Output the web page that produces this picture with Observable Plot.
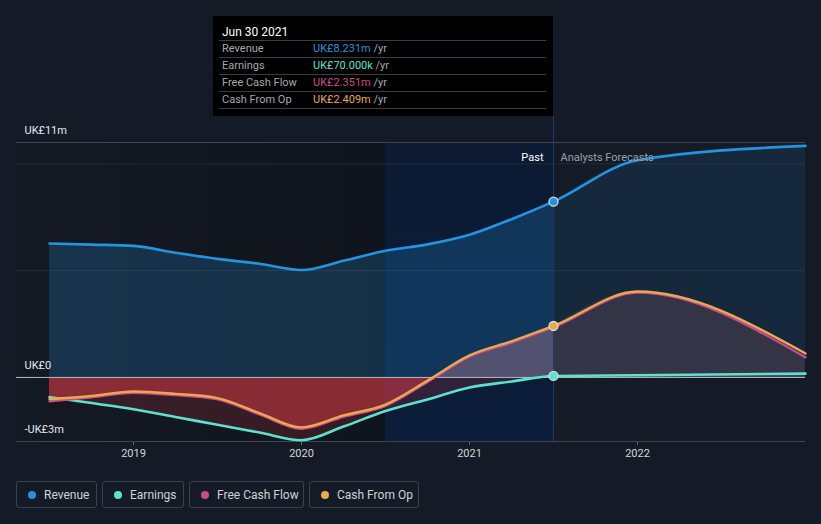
<!DOCTYPE html>
<html><head><meta charset="utf-8">
<script src="https://cdn.jsdelivr.net/npm/d3@7"></script>
<script src="https://cdn.jsdelivr.net/npm/@observablehq/plot@0.6"></script>
<style>
body{margin:0;background:#151b26;font-family:Roboto,sans-serif;}
#wrap{position:relative;width:821px;height:524px;overflow:hidden;background:#151b26;}
#chart{position:absolute;left:0;top:0;}
#tip{position:absolute;left:213px;top:16px;width:340px;height:100px;background:#000;}
#tip .title{position:absolute;left:9px;top:9px;font-size:12px;color:#fff;line-height:14px;}
#tip .rows{position:absolute;left:6px;top:24px;width:327px;border-top:1px solid #3a3d42;}
#tip .row{height:16px;border-bottom:1px solid #3a3d42;font-size:11px;line-height:16px;position:relative;}
#tip .lab{position:absolute;left:3px;color:#a6a8ab;}
#tip .val{position:absolute;left:94px;}
#tip .unit{color:#a6a8ab;}
#legend{position:absolute;left:16px;top:481px;display:flex;gap:5px;}
.btn{box-sizing:border-box;height:27px;border:1px solid #3b404b;border-radius:3px;display:flex;align-items:center;padding-left:11px;font-size:12px;color:#d0d2d6;}
.dot{width:8px;height:8px;border-radius:50%;margin-right:8px;flex:none;}
</style>
</head><body>
<div id="wrap">
  <div id="chart"></div>
  <div id="tip"></div>
  <div id="legend"></div>
</div>
<script>
// ---- data (UK£ millions) ----
const pastYears   = [2018.5, 2018.75, 2019.0, 2019.25, 2019.5, 2019.75, 2020.0, 2020.25, 2020.5, 2020.75, 2021.0, 2021.25, 2021.5];
const pastRevenue = [6.27, 6.22, 6.16, 5.84, 5.55, 5.32, 5.03, 5.46, 5.93, 6.23, 6.68, 7.41, 8.231];
const pastEarnings= [-0.92, -1.2, -1.49, -1.85, -2.22, -2.58, -2.94, -2.3, -1.57, -1.03, -0.47, -0.19, 0.07];
const pastFCF     = [-1.12, -0.93, -0.72, -0.83, -1.03, -1.73, -2.40, -1.84, -1.33, -0.21, 0.97, 1.63, 2.351];
const pastCFO     = [-1.02, -0.87, -0.66, -0.77, -0.97, -1.67, -2.34, -1.78, -1.27, -0.15, 1.03, 1.69, 2.409];
const fcYears     = [2021.5, 2022.0, 2023.0];
const fcRevenue   = [8.231, 10.17, 10.84];
const fcEarnings  = [0.07, 0.1, 0.18];
const fcFCF       = [2.351, 3.97, 0.94];
const fcCFO       = [2.409, 4.02, 1.12];
const xTicks = [2019, 2020, 2021, 2022];
const yLabelValues = [11, 0, -3];
const yLabelTexts  = ["UK£11m", "UK£0", "-UK£3m"];
const gridValues = [5, 10];
const pastShadeRange = [2018 + 51/168, 2020.5];
const lastYearRange = [2020.5, 2021.5];
const nowYear = 2021.5;
const seriesNames = ["Revenue", "Earnings", "Free Cash Flow", "Cash From Op"];
const seriesColors = ["#2394df", "#5de2cf", "#c84b8a", "#e9a94f"];
const tipTitle = "Jun 30 2021";
const tipValues = ["UK£8.231m", "UK£70.000k", "UK£2.351m", "UK£2.409m"];

const past = pastYears.map((x, i) => ({x, rev: pastRevenue[i], earn: pastEarnings[i], fcf: pastFCF[i], cfo: pastCFO[i]}));
const fc = fcYears.map((x, i) => ({x, rev: fcRevenue[i], earn: fcEarnings[i], fcf: fcFCF[i], cfo: fcCFO[i]}));
const all = past.concat(fc.slice(1));
const now = past[past.length - 1];
const yLabels = yLabelValues.map((v, i) => ({v, t: yLabelTexts[i]}));

const curve = "monotone-x";
const C = seriesColors;

const chart = Plot.plot({
  width: 821, height: 470,
  marginLeft: 16, marginRight: 16, marginTop: 142, marginBottom: 29,
  x: {domain: [pastShadeRange[0], 2023], ticks: xTicks, tickFormat: d => String(d), tickSize: 4, tickPadding: 4, label: null},
  y: {domain: [-3, 11], axis: null},
  style: {background: "transparent", color: "#d4d6da", fontFamily: "Roboto, sans-serif", fontSize: "11px", overflow: "visible"},
  marks: [
    Plot.rect([pastShadeRange], {x1: d => d[0], x2: d => d[1], y1: -3, y2: 11, fill: "url(#pastShade)"}),
    Plot.rect([lastYearRange], {x1: d => d[0], x2: d => d[1], y1: -3, y2: 11, fill: "url(#bandFill)"}),
    Plot.ruleY(gridValues, {stroke: "#232b38", strokeWidth: 1}),
    // revenue areas
    Plot.areaY(past, {x: "x", y: "rev", curve, fill: C[0], fillOpacity: 0.22}),
    Plot.areaY(fc, {x: "x", y: "rev", curve, fill: C[0], fillOpacity: 0.12}),
    // signed areas
    Plot.areaY(past, {x: "x", y: "earn", curve, fill: "url(#earnPast)"}),
    Plot.areaY(past, {x: "x", y: "fcf", curve, fill: "url(#signedPast)"}),
    Plot.areaY(past, {x: "x", y: "cfo", curve, fill: "url(#signedPast)"}),
    Plot.areaY(fc, {x: "x", y: "earn", curve, fill: "url(#signedFc)"}),
    Plot.areaY(fc, {x: "x", y: "fcf", curve, fill: "url(#signedFc)"}),
    Plot.areaY(fc, {x: "x", y: "cfo", curve, fill: "url(#signedFc)"}),
    Plot.ruleY([11, -3], {stroke: "#3f4551", strokeWidth: 1}),
    Plot.ruleY([0], {stroke: "#b9bcc2", strokeWidth: 1}),
    Plot.ruleX([nowYear], {y1: -3, y2: 12.2, stroke: "#1d3a68", strokeWidth: 1}),
    // lines
    Plot.line(all, {x: "x", y: "rev", curve, stroke: C[0], strokeWidth: 2.6}),
    Plot.line(all, {x: "x", y: "earn", curve, stroke: C[1], strokeWidth: 2.6}),
    Plot.line(all, {x: "x", y: "fcf", curve, stroke: C[2], strokeWidth: 2.4}),
    Plot.line(all, {x: "x", y: "cfo", curve, stroke: C[3], strokeWidth: 2.4}),
    // dots at now
    Plot.dot([now], {x: "x", y: "rev", r: 4.5, fill: C[0], stroke: "#d6dde6", strokeWidth: 1.3}),
    Plot.dot([now], {x: "x", y: "cfo", r: 4.5, fill: C[3], stroke: "#d6dde6", strokeWidth: 1.3}),
    Plot.dot([now], {x: "x", y: "earn", r: 4.5, fill: C[1], stroke: "#d6dde6", strokeWidth: 1.3}),
    // labels
    Plot.text(yLabels, {y: "v", text: "t", frameAnchor: "left", dx: 8, dy: -12, textAnchor: "start", fill: "#e6e8eb", fontSize: 11}),
    Plot.text(["Past"], {x: nowYear, text: d => d, frameAnchor: "top", dy: 11, dx: -10, textAnchor: "end", fill: "#ffffff", fontSize: 11}),
    Plot.text(["Analysts Forecasts"], {x: nowYear, text: d => d, frameAnchor: "top", dy: 11, dx: 7, textAnchor: "start", fill: "#9aa0a8", fontSize: 11})
  ]
});

// gradients, positioned with the plot's own y scale
const ys = chart.scale("y");
const yTop = ys.apply(11), yBot = ys.apply(-3), y0 = ys.apply(0);
const off = (y0 - yTop) / (yBot - yTop);
const defs = d3.select(chart).insert("defs", ":first-child");
function signed(id, pos, posOp, neg, negOp) {
  const g = defs.append("linearGradient").attr("id", id).attr("gradientUnits", "userSpaceOnUse")
    .attr("x1", 0).attr("x2", 0).attr("y1", yTop).attr("y2", yBot);
  g.append("stop").attr("offset", 0).attr("stop-color", pos).attr("stop-opacity", posOp);
  g.append("stop").attr("offset", off).attr("stop-color", pos).attr("stop-opacity", posOp);
  g.append("stop").attr("offset", off).attr("stop-color", neg).attr("stop-opacity", negOp);
  g.append("stop").attr("offset", 1).attr("stop-color", neg).attr("stop-opacity", negOp);
}
signed("signedPast", "#c68292", 0.2, "#e83c44", 0.27);
signed("earnPast", "#c68292", 0.2, "#e83c44", 0.17);
signed("signedFc", "#74505e", 0.17, "#e83c44", 0.2);
const ps = defs.append("linearGradient").attr("id", "pastShade");
ps.append("stop").attr("offset", 0).attr("stop-color", "#000").attr("stop-opacity", 0.08);
ps.append("stop").attr("offset", 1).attr("stop-color", "#000").attr("stop-opacity", 0.25);
const bf = defs.append("linearGradient").attr("id", "bandFill").attr("x1", 0).attr("x2", 0).attr("y1", 0).attr("y2", 1);
bf.append("stop").attr("offset", 0).attr("stop-color", "#0c1a33");
bf.append("stop").attr("offset", 1).attr("stop-color", "#0b1d3a");
d3.select(chart).selectAll('g[aria-label="x-axis tick"] path').attr("stroke", "#5a5f6a");

document.getElementById("chart").appendChild(chart);

// tooltip
const tip = d3.select("#tip");
tip.append("div").attr("class", "title").text(tipTitle);
const rows = tip.append("div").attr("class", "rows");
seriesNames.forEach((n, i) => {
  const r = rows.append("div").attr("class", "row");
  r.append("span").attr("class", "lab").text(n);
  const v = r.append("span").attr("class", "val");
  v.append("span").style("color", C[i]).text(tipValues[i]);
  v.append("span").attr("class", "unit").text(" /yr");
});

// legend
const btnWidths = [81, 82, 115, 110];
const lg = d3.select("#legend");
seriesNames.forEach((n, i) => {
  const b = lg.append("div").attr("class", "btn").style("width", btnWidths[i] + "px");
  b.append("span").attr("class", "dot").style("background", C[i]);
  b.append("span").text(n);
});
</script>
</body></html>
